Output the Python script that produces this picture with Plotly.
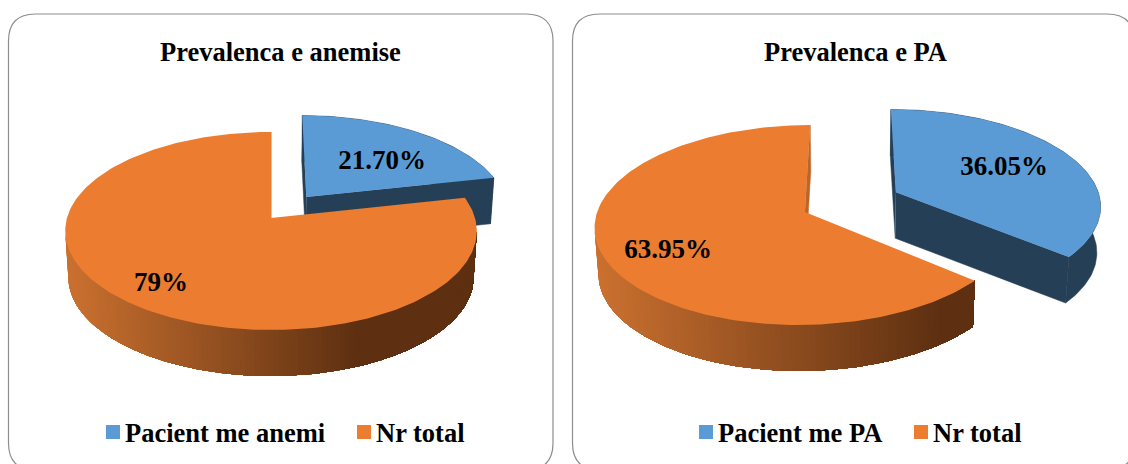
import math
import numpy as np
import plotly.graph_objects as go

titles = ["Prevalenca e anemise", "Prevalenca e PA"]
categories_a = ["Pacient me anemi", "Nr total"]
categories_b = ["Pacient me PA", "Nr total"]
values_a = [21.70, 79]
values_b = [36.05, 63.95]
labels_a = ["21.70%", "79%"]
labels_b = ["36.05%", "63.95%"]

FONT = "Liberation Serif"
BLUE, ORANGE, NAVY = "#5B9BD5", "#EB7C30", "#243F56"
LIGHT, DARK = (203, 113, 48), (94, 48, 17)

fig = go.Figure()
annotations = []


def poly(xs, ys, color, lw=0.0):
    fig.add_trace(go.Scatter(
        x=list(xs), y=list(ys), mode="lines", fill="toself", fillcolor=color,
        line=dict(color=color, width=lw), hoverinfo="skip", showlegend=False))


def pie(values, labels, cx, cy, R, ry, k, explode, label_xy, depth=46, shrink=0.985):
    total = sum(values)

    def project(u, v, low=False):
        w = 1 + k * v
        x = R * u / w
        y = -ry * v / w
        if low:
            return cx + x * shrink, cy + y + depth
        return cx + x, cy + y

    start = 0.0
    faces = []
    for i, val in enumerate(values):
        sweep = 2 * math.pi * val / total
        mid = start + sweep / 2
        e = explode[i]
        ou, ov = e * math.sin(mid), e * math.cos(mid)
        t = np.linspace(start, start + sweep, max(int(val * 3), 24))
        ru, rv = ou + np.sin(t), ov + np.cos(t)
        faces.append((i, ou, ov, ru, rv))
        start += sweep

    span_lo = min(project(f[3][j], f[4][j])[0] for f in faces for j in range(len(f[3])))
    span_hi = max(project(f[3][j], f[4][j])[0] for f in faces for j in range(len(f[3])))

    for i, ou, ov, ru, rv in faces:
        tx, ty = project(ru, rv)
        bx, by = project(ru, rv, True)
        ax, ay = project(ou, ov)
        alx, aly = project(ou, ov, True)
        if i == 0:
            poly([ax, tx[0], bx[0], alx], [ay, ty[0], by[0], aly], NAVY, 0.5)
            poly([ax, tx[-1], bx[-1], alx], [ay, ty[-1], by[-1], aly], NAVY, 0.5)
            poly(list(tx) + list(bx[::-1]), list(ty) + list(by[::-1]), NAVY, 0.5)
        else:
            poly([ax, tx[-1], bx[-1], alx], [ay, ty[-1], by[-1], aly], "#BC6528", 0.5)
            # Front wall only, from the left extreme to the right extreme of the rim.
            # Strips overlap and are painted left to right, so no seams show.
            a, b = int(np.argmax(tx)), int(np.argmin(tx))
            front = np.arange(a, b + 1)[::-1]
            xs_t, ys_t, xs_b, ys_b = tx[front], ty[front], bx[front], by[front]
            for j in range(len(xs_t) - 1):
                f = ((xs_t[j] + xs_t[j + 1]) / 2 - span_lo) / (span_hi - span_lo)
                g = min(f / 0.68, 1.0)
                col = "rgb(%d,%d,%d)" % tuple(round(a_ + (b_ - a_) * g) for a_, b_ in zip(LIGHT, DARK))
                poly(list(xs_t[j:]) + list(xs_b[j:][::-1]), list(ys_t[j:]) + list(ys_b[j:][::-1]), col)
        poly([ax] + list(tx), [ay] + list(ty), BLUE if i == 0 else ORANGE)

    fig.add_trace(go.Scatter(
        x=[p[0] for p in label_xy], y=[p[1] for p in label_xy], text=labels, mode="text",
        textposition="middle center",
        textfont=dict(family=FONT, size=27, color="#000000", weight="bold"),
        hoverinfo="skip", showlegend=False))


pie(values_a, labels_a, 271, 218, 204, 97.3, 0.131, [0.284, 0.0], [(382, 162), (161, 284)])
pie(values_b, labels_b, 851, 202, 205, 95.7, 0.1275, [0.245, 0.245], [(1004, 168), (668, 251)])


def legend_item(name, color, x):
    fig.add_trace(go.Scatter(
        x=[x], y=[432], mode="markers",
        marker=dict(symbol="square", size=14, color=color),
        hoverinfo="skip", showlegend=False))
    annotations.append(dict(text=name, x=x + 10, y=433, xref="x", yref="y", showarrow=False,
                            xanchor="left", yanchor="middle",
                            font=dict(family=FONT, size=26.5, color="#000000", weight="bold")))


legend_item(categories_a[0], BLUE, 113)
legend_item(categories_a[1], ORANGE, 364)
legend_item(categories_b[0], BLUE, 706)
legend_item(categories_b[1], ORANGE, 921)


def rounded(x0, y0, x1, y1, r):
    return (f"M{x0 + r},{y0} L{x1 - r},{y0} Q{x1},{y0} {x1},{y0 + r} L{x1},{y1 - r} Q{x1},{y1} {x1 - r},{y1} "
            f"L{x0 + r},{y1} Q{x0},{y1} {x0},{y1 - r} L{x0},{y0 + r} Q{x0},{y0} {x0 + r},{y0} Z")


shapes = [dict(type="path", xref="x", yref="y", path=rounded(*b, 27), layer="below",
               line=dict(color="#8E8E8E", width=1.2), fillcolor="#FFFFFF")
          for b in [(8.5, 14, 553, 470), (572.5, 14, 1134, 470)]]

annotations += [dict(text=t, x=x, y=52, xref="x", yref="y", showarrow=False, xanchor="center", yanchor="middle",
                     font=dict(family=FONT, size=26.5, color="#000000", weight="bold"))
                for t, x in zip(titles, [280.5, 855])]

fig.update_layout(
    width=1128, height=464, margin=dict(l=0, r=0, t=0, b=0), autosize=False,
    paper_bgcolor="#FFFFFF", plot_bgcolor="#FFFFFF", showlegend=False,
    xaxis=dict(range=[0, 1128], visible=False, fixedrange=True),
    yaxis=dict(range=[464, 0], visible=False, fixedrange=True),
    shapes=shapes, annotations=annotations)

fig.write_html("out.html", config=dict(displayModeBar=False),
               post_script="document.body.style.margin='0';document.body.style.overflow='hidden';")
